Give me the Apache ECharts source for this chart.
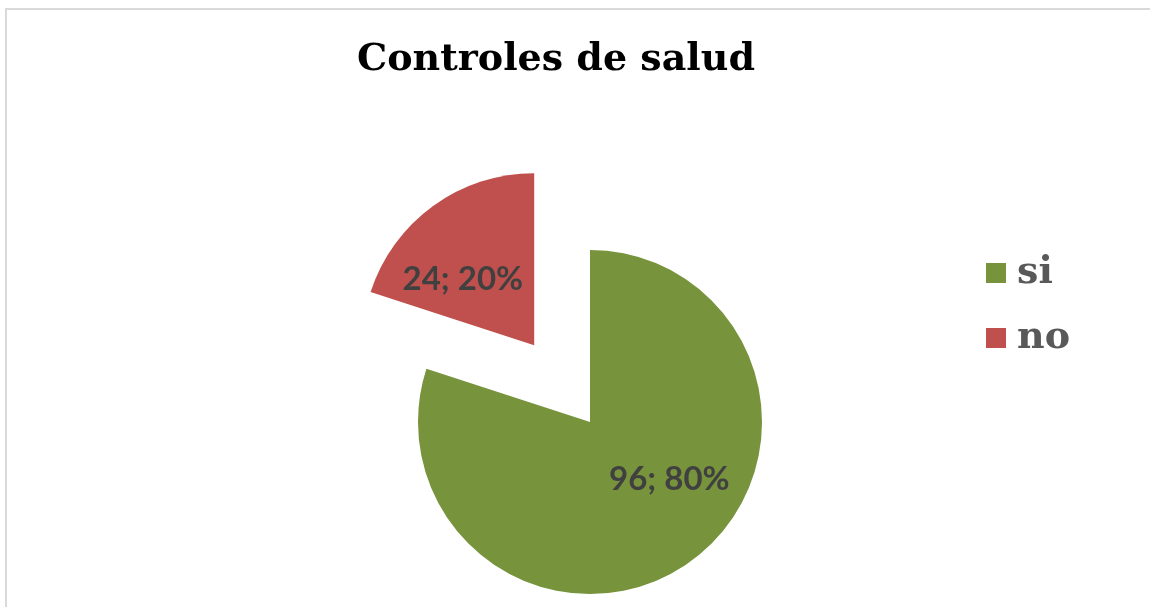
<!DOCTYPE html>
<html>
<head>
<meta charset="utf-8">
<script src="https://cdn.jsdelivr.net/npm/echarts@6/dist/echarts.min.js"></script>
<style>
    html, body { margin: 0; padding: 0; background: #fff; overflow: hidden; width: 1150px; height: 607px; }
    #frame { position: absolute; left: 5px; top: 8px; width: 1200px; height: 700px; border-top: 2px solid #d9d9d9; border-left: 2px solid #d9d9d9; }
    #chart { position: absolute; left: 0; top: 0; width: 1150px; height: 607px; }
</style>
</head>
<body>
<div id="frame"></div>
<div id="chart"></div>
<script>
// datos del grafico
var categorias = ['si', 'no'];
var valores = [96, 24];
var colores = ['#77933C', '#C0504D'];
// el sector que va separado
var separado = [false, true];

var myChart = echarts.init(document.getElementById('chart'));

var total = _sum(valores);
function _sum(arr){
    var s = 0;
    for (var i = 0; i < arr.length; i++) s += arr[i];
    return s;
}

var datos = categorias.map(function(c, i){
    return {
        name: c,
        value: valores[i],
        selected: separado[i],
        itemStyle: { color: colores[i] }
    };
});

// ajuste fino de la posicion de las etiquetas
var ajusteEtiquetas = [
    { dx: 27, dy: -15 },
    { dx: -19, dy: 6 }
];

var option = {
    backgroundColor: 'transparent',
    animation: false,
    title: {
        text: 'Controles de salud',
        left: 551,
        top: 36,
        textAlign: 'center',
        textStyle: {
            fontFamily: 'DejaVu Serif',
            fontWeight: 'bold',
            fontSize: 38,
            color: '#000'
        }
    },
    legend: {
        orient: 'vertical',
        left: 981,
        top: 248,
        itemWidth: 20,
        itemHeight: 20,
        itemGap: 25,
        icon: 'rect',
        selectedMode: false,
        data: categorias,
        textStyle: {
            fontFamily: 'DejaVu Serif',
            fontWeight: 'bold',
            fontSize: 38,
            lineHeight: 40,
            color: '#595959',
            padding: [0, 0, 0, 6]
        }
    },
    series: [
        {
            type: 'pie',
            center: [590, 422],
            radius: [0, 172],
            startAngle: 90,
            clockwise: true,
            selectedMode: 'single',
            selectedOffset: 95,
            emphasis: { disabled: true },
            label: {
                show: true,
                position: 'inside',
                formatter: function(p){
                    return p.value + '; ' + Math.round(p.value / total * 100) + '%';
                },
                fontFamily: 'Lato',
                fontWeight: 'bold',
                fontSize: 33,
                color: '#404040'
            },
            labelLine: { show: false },
            labelLayout: function(p){
                return ajusteEtiquetas[p.dataIndex];
            },
            data: datos
        }
    ]
};

myChart.setOption(option);
</script>
</body>
</html>
